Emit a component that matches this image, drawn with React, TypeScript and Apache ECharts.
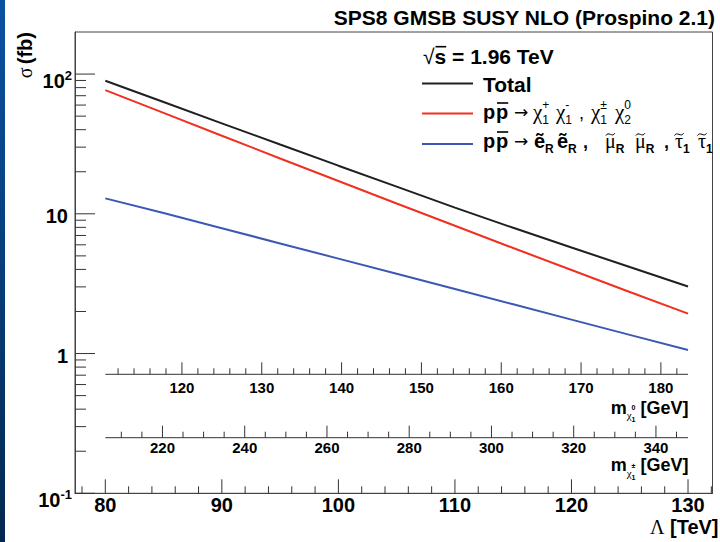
import React, { useEffect, useRef } from 'react';
import * as echarts from 'echarts';

// ---- data ----
const lambdaTeV = [80, 85, 90, 95, 100, 105, 110, 115, 120, 125, 130];
const sigmaTotal = [89.6, 63.1, 44.4, 31.3, 22.1, 15.65, 11.07, 7.94, 5.74, 4.16, 3.02];
const sigmaGaugino = [76.8, 52.7, 36.2, 24.9, 17.17, 11.85, 8.21, 5.69, 3.96, 2.76, 1.93];
const sigmaSlepton = [12.9, 10.13, 7.88, 6.14, 4.78, 3.72, 2.9, 2.25, 1.75, 1.36, 1.06];

const lambdaAxisRange = [77.4, 132.1];
const sigmaAxisRange = [0.1, 200];
const massEndsLambda = [80, 130];
const neutralinoMassEnds = [110.4, 183.4];
const charginoMassEnds = [206.1, 347.8];
const neutralinoLabels = [120, 130, 140, 150, 160, 170, 180];
const charginoLabels = [220, 240, 260, 280, 300, 320, 340];

const SANS = '"Liberation Sans", Arial, Helvetica, sans-serif';
const SERIF = '"Liberation Serif", "Times New Roman", serif';
const ARROW = '"DejaVu Sans", sans-serif';
const K = 0.35;

let mctx: CanvasRenderingContext2D | null = null;
function fontOf(size: number, bold: boolean, fam: string) {
  return `${bold ? 'bold ' : ''}${size}px ${fam}`;
}
function measure(s: string, size: number, bold: boolean, fam: string) {
  if (!mctx) mctx = document.createElement('canvas').getContext('2d');
  mctx!.font = fontOf(size, bold, fam);
  return mctx!.measureText(s).width;
}
function textAt(s: string, x: number, baseline: number, size: number, bold: boolean, fam: string, color: string, align = 'left') {
  return {
    type: 'text', x, y: baseline - K * size, silent: true,
    style: { text: s, fontSize: size, fontWeight: bold ? 'bold' : 'normal', fontFamily: fam, fill: color, align, verticalAlign: 'middle' },
  };
}
type Tok = {
  t?: string; sup?: string; sub?: string; size: number; bold?: boolean; fam?: string; at?: number;
  dy?: number; supDy?: number; subDy?: number; over?: boolean; tilde?: boolean; gap?: number;
};
function layout(toks: Tok[], x0: number, baseline: number, align: 'left' | 'right', color = '#000') {
  const widths = toks.map((tk) => {
    const fam = tk.fam || SANS;
    if (tk.t !== undefined) return measure(tk.t, tk.size, !!tk.bold, fam);
    return Math.max(measure(tk.sup || '', tk.size, !!tk.bold, fam), measure(tk.sub || '', tk.size, !!tk.bold, fam));
  });
  const total = widths.reduce((a, w, i) => a + w + (toks[i].gap || 0), 0);
  let x = align === 'left' ? x0 : x0 - total;
  const els: any[] = [];
  toks.forEach((tk, i) => {
    const fam = tk.fam || SANS;
    const w = widths[i];
    if (tk.at !== undefined) x = tk.at;
    if (tk.t !== undefined) {
      const b = baseline + (tk.dy || 0);
      els.push(textAt(tk.t, x, b, tk.size, !!tk.bold, fam, color));
      if (tk.over) {
        const yy = b - 0.8 * tk.size;
        els.push({ type: 'line', silent: true, shape: { x1: x + 1, y1: yy, x2: x + w, y2: yy }, style: { stroke: color, lineWidth: 1.6 } });
      }
      if (tk.tilde) {
        const cx = x + w / 2;
        const cy = b - 0.68 * tk.size;
        els.push({
          type: 'bezierCurve', silent: true,
          shape: { x1: cx - 4.5, y1: cy + 1.2, cpx1: cx - 2, cpy1: cy - 3.5, cpx2: cx + 2, cpy2: cy + 3.5, x2: cx + 4.5, y2: cy - 1.2 },
          style: { stroke: color, lineWidth: 1, fill: 'none' },
        });
      }
    } else {
      if (tk.sup) els.push(textAt(tk.sup, x, baseline + (tk.supDy ?? -9), tk.size, !!tk.bold, fam, color));
      if (tk.sub) els.push(textAt(tk.sub, x, baseline + (tk.subDy ?? 5), tk.size, !!tk.bold, fam, color));
    }
    x += w + (tk.gap || 0);
  });
  return els;
}

export default function App() {
  const ref = useRef<HTMLDivElement>(null);
  useEffect(() => {
    const chart = echarts.init(ref.current!, undefined, { renderer: 'svg' });

    const LS = 20;
    const chi = (at: number): Tok => ({ t: '\u03C7', size: 21, fam: SERIF, at });
    const ss = (sup: string | undefined, sub: string | undefined, bold = false): Tok => ({ sup, sub, size: 12, bold, supDy: -10, subDy: 5 });
    const pp = (): Tok[] => [
      { t: 'p', size: LS, bold: true, at: 483 },
      { t: 'p', size: LS, bold: true, over: true, at: 496 },
      { t: '\u2192', size: 17, fam: ARROW, dy: -1, at: 514 },
    ];

    const legendEls: any[] = [
      ...layout([
        { t: '\u221A', size: 21 },
        { t: 's', size: 21, bold: true, over: true },
        { t: ' = 1.96 TeV', size: 21, bold: true },
      ], 423, 63.5, 'left'),
      ...layout([{ t: 'Total', size: 21, bold: true }], 483, 91.5, 'left'),
      ...layout([
        ...pp(),
        chi(533), ss('+', '1'),
        chi(556), ss('-', '1'),
        { t: ',', size: 18, at: 579 },
        chi(591), ss('\u00B1', '1'),
        chi(615), ss('0', '2'),
      ], 483, 119, 'left'),
      ...layout([
        ...pp(),
        { t: '\u1EBD', size: LS, bold: true, at: 534 }, ss(undefined, 'R', true),
        { t: '\u1EBD', size: LS, bold: true, at: 557 }, ss(undefined, 'R', true),
        { t: ',', size: 18, bold: true, at: 583 },
        { t: '\u03BC', size: LS, fam: SERIF, tilde: true, at: 605 }, ss(undefined, 'R', true),
        { t: '\u03BC', size: LS, fam: SERIF, tilde: true, at: 635 }, ss(undefined, 'R', true),
        { t: ',', size: 18, bold: true, at: 664 },
        { t: '\u03C4', size: LS, fam: SERIF, tilde: true, at: 675 }, ss(undefined, '1', true),
        { t: '\u03C4', size: LS, fam: SERIF, tilde: true, at: 698 }, ss(undefined, '1', true),
      ], 483, 148, 'left'),
    ];
    const legendLines = [
      { y: 83.5, c: '#202020' },
      { y: 113.5, c: '#f03020' },
      { y: 144, c: '#3c58b4' },
    ].map((l) => ({ type: 'line', silent: true, shape: { x1: 422, y1: l.y, x2: 473, y2: l.y }, style: { stroke: l.c, lineWidth: 2 } }));

    const massLabel = (pm: string, baseline: number) =>
      layout([
        { t: 'm', size: 18, bold: true },
        { t: '\u03C7', size: 11, fam: SERIF, dy: 5 },
        { sup: pm, sub: '1', size: 7, bold: true, supDy: -4, subDy: 8 },
        { t: ' [GeV]', size: 18, bold: true, gap: 0 },
      ], 688.5, baseline, 'right');

    const graphics: any[] = [
      {
        type: 'rect', silent: true, shape: { x: 0, y: 0, width: 5, height: 542 },
        style: { fill: new echarts.graphic.LinearGradient(0, 0, 0, 1, [{ offset: 0, color: '#0b52a3' }, { offset: 1, color: '#03284f' }]) },
      },
      textAt('SPS8 GMSB SUSY NLO (Prospino 2.1)', 715, 25, 21, true, SANS, '#000', 'right'),
      {
        type: 'text', silent: true, x: 25, y: 32, rotation: Math.PI / 2,
        style: {
          text: '{s|\u03C3} {b|(fb)}', align: 'right', verticalAlign: 'middle',
          rich: { s: { fontSize: 20, fontFamily: SERIF, fill: '#000' }, b: { fontSize: 20, fontWeight: 'bold', fontFamily: SANS, fill: '#000' } },
        },
      },
      ...layout([{ t: '\u039B', size: 20, fam: SERIF }, { t: ' [TeV]', size: 20, bold: true }], 718.5, 534, 'right'),
      ...massLabel('0', 414),
      ...massLabel('\u00B1', 471.5),
      ...legendLines,
      ...legendEls,
    ];

    const mk = (vals: number[]) => lambdaTeV.map((l, i) => [l, vals[i]]);
    const lineSeries = (name: string, vals: number[], color: string) => ({
      name, type: 'line', data: mk(vals), showSymbol: false, symbol: 'none',
      lineStyle: { color, width: 2 }, itemStyle: { color }, z: 3, silent: true,
    });

    const secAxes = [
      { ends: neutralinoMassEnds, labels: neutralinoLabels, step: 2, major: 10, dy: 119, labelDy: 13 },
      { ends: charginoMassEnds, labels: charginoLabels, step: 5, major: 20, dy: 55.6, labelDy: 9.5 },
    ];

    const option: any = {
      animation: false,
      backgroundColor: '#ffffff',
      grid: { left: 75, top: 32, width: 637.5, height: 461.3, show: true, borderColor: '#444', borderWidth: 1, backgroundColor: 'transparent' },
      xAxis: {
        type: 'value', min: lambdaAxisRange[0], max: lambdaAxisRange[1],
        axisLine: { show: true, lineStyle: { color: '#444', width: 1 } },
        axisTick: { show: false }, splitLine: { show: false },
        axisLabel: {
          formatter: (v: number) => (Math.abs(v - Math.round(v / 10) * 10) < 1e-6 ? String(Math.round(v)) : ''),
          fontSize: 20, fontWeight: 'bold', fontFamily: SANS, color: '#000', margin: 2,
        },
      },
      yAxis: {
        type: 'log', logBase: 10, min: sigmaAxisRange[0], max: sigmaAxisRange[1],
        axisLine: { show: true, lineStyle: { color: '#444', width: 1 } },
        axisTick: { show: false }, splitLine: { show: false },
        axisLabel: {
          margin: 3,
          formatter: (v: number) => {
            const e = Math.log10(v);
            const r = Math.round(e);
            if (Math.abs(e - r) > 1e-6) return '';
            if (r === 0) return '{p|1}';
            if (r === 1) return '{p|10}';
            return `{a|10}{s|${r}}`;
          },
          rich: {
            a: { fontSize: 20, fontWeight: 'bold', fontFamily: SANS, color: '#000', padding: [13, 0, 0, 0] },
            s: { fontSize: 13, fontWeight: 'bold', fontFamily: SANS, color: '#000', verticalAlign: 'top', padding: [11, 0, 0, 0] },
            p: { fontSize: 20, fontWeight: 'bold', fontFamily: SANS, color: '#000', padding: [4, 4, 0, 0] },
          },
        },
      },
      legend: { show: false },
      series: [
        lineSeries('Total', sigmaTotal, '#202020'),
        lineSeries('p p\u0304 \u2192 \u03C7\u2081\u207A \u03C7\u2081\u207B, \u03C7\u2081\u00B1 \u03C7\u2082\u2070', sigmaGaugino, '#f03020'),
        lineSeries('p p\u0304 \u2192 sleptons', sigmaSlepton, '#3c58b4'),
        {
          name: 'axes', type: 'custom', silent: true, z: 4, clip: false,
          data: [[100, 1]],
          renderItem: (_params: any, api: any) => {
            const children: any[] = [];
            const bottom = api.coord([100, sigmaAxisRange[0]])[1];
            const left = api.coord([lambdaAxisRange[0], 1])[0];
            const seg = (x1: number, y1: number, x2: number, y2: number) => ({
              type: 'line', shape: { x1, y1, x2, y2 }, style: { stroke: '#333', lineWidth: 1 },
            });
            for (let v = 78; v <= 132; v += 2) {
              const x = api.coord([v, 1])[0];
              children.push(seg(x, bottom, x, bottom - (v % 10 === 0 ? 14 : 7)));
            }
            for (let d = -1; d <= 2; d++) {
              for (let k = 1; k <= 9; k++) {
                const v = k * Math.pow(10, d);
                if (v >= sigmaAxisRange[1] - 1e-9) continue;
                const y = api.coord([100, v])[1];
                children.push(seg(left, y, left + (k === 1 ? 20 : 11), y));
              }
            }
            secAxes.forEach((ax) => {
              const yA = bottom - ax.dy;
              const x0 = api.coord([massEndsLambda[0], 1])[0];
              const x1 = api.coord([massEndsLambda[1], 1])[0];
              children.push(seg(x0, yA, x1, yA));
              const toL = (m: number) => massEndsLambda[0] + ((m - ax.ends[0]) / (ax.ends[1] - ax.ends[0])) * (massEndsLambda[1] - massEndsLambda[0]);
              for (let m = Math.ceil(ax.ends[0] / ax.step) * ax.step; m <= ax.ends[1]; m += ax.step) {
                const x = api.coord([toL(m), 1])[0];
                children.push(seg(x, yA, x, yA - (m % ax.major === 0 ? 12 : 6)));
              }
              ax.labels.forEach((m) => {
                const x = api.coord([toL(m), 1])[0];
                children.push({
                  type: 'text', x, y: yA + ax.labelDy,
                  style: { text: String(m), fontSize: 15, fontWeight: 'bold', fontFamily: SANS, fill: '#000', align: 'center', verticalAlign: 'middle' },
                });
              });
            });
            return { type: 'group', children };
          },
        },
      ],
      graphic: graphics,
    };
    chart.setOption(option);
    return () => chart.dispose();
  }, []);
  return <div ref={ref} style={{ position: 'absolute', left: 0, top: 0, width: 720, height: 542 }} />;
}
